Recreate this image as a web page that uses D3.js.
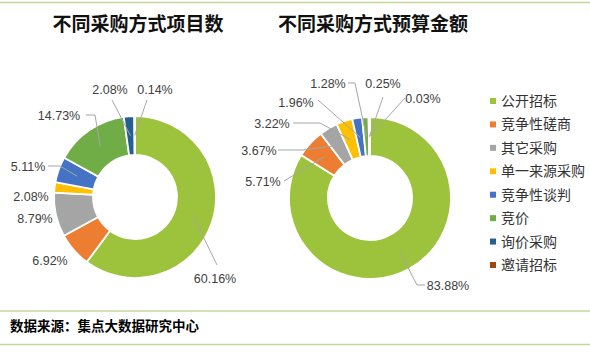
<!DOCTYPE html>
<html>
<head>
<meta charset="utf-8">
<script src="https://cdn.jsdelivr.net/npm/d3@7/dist/d3.min.js"></script>
<style>
  body { margin: 0; background: #fff; }
  svg text { font-family: "Liberation Sans", Arial, sans-serif; }
  .cjk { font-family: "Noto Sans CJK SC", sans-serif; }
</style>
</head>
<body>
<svg id="chart" width="590" height="353"></svg>
<script>
// data
const categories = ["公开招标", "竞争性磋商", "其它采购", "单一来源采购", "竞争性谈判", "竞价", "询价采购", "邀请招标"]
const colors = ["#9dc23c", "#ed7d31", "#a5a5a5", "#ffc000", "#4472c4", "#70ad47", "#255e91", "#9e480e"]
const projectShare = [60.16, 6.92, 8.79, 2.08, 5.11, 14.73, 2.08, 0.14]
const budgetShare = [83.88, 5.71, 3.67, 3.22, 1.96, 1.28, 0.25, 0.03]
const titles = ["不同采购方式项目数", "不同采购方式预算金额"]
const source = "数据来源：集点大数据研究中心"

// label placement (relative to donut centre): [x, baseline y, leader start x, leader start y, elbow x]
const projectLabels = [
  [80, 86, 82, 68, null], [-85, 68, null], [-100, 26, null], [-104, 4, null],
  [-107, -26, -87, -31, -75], [-76, -77, -49, -82, -40], [-25, -103, -23, -97, null], [20, -103, 12, -97, null]
]
const budgetLabels = [
  [78, 92, 55, 87, 47], [-107, -12, -86, -17, null], [-111, -43, -92, -48, -67], [-98, -70, -77, -75, -50],
  [-74, -91, -52, -98, null], [-42, -110, -22, -115, -15], [13, -110, 13, -101, null], [53, -95, 35, -100, null]
]

const svg = d3.select("#chart")
const W = 590, H = 353
const rOuter = 81, rInner = 42

// frame lines
const lineColor = "#c4d79b"
;[2.5, 311, 344.5].forEach(y => {
  svg.append("line").attr("x1", 0).attr("x2", W).attr("y1", y).attr("y2", y)
    .attr("stroke", lineColor).attr("stroke-width", 1.5)
})

const pie = d3.pie().sort(null).value(d => d)
const arc = d3.arc().innerRadius(rInner).outerRadius(rOuter)
const mid = d3.arc().innerRadius((rInner + rOuter) / 2).outerRadius((rInner + rOuter) / 2)

function donut(values, labels, cx, cy, title) {
  svg.append("text").attr("class", "cjk")
    .attr("x", cx + 3).attr("y", 31)
    .attr("text-anchor", "middle")
    .attr("font-size", 19).attr("font-weight", "bold").attr("fill", "#111")
    .text(title)

  const g = svg.append("g").attr("transform", `translate(${cx},${cy})`)
  const arcs = pie(values)
  g.selectAll("path").data(arcs).join("path")
    .attr("d", arc)
    .attr("fill", (d, i) => colors[i])
    .attr("stroke", "#fff").attr("stroke-width", 1.8)

  arcs.forEach((a, i) => {
    const lp = labels[i]
    if (lp[2] !== null) {
      const pts = [[lp[2], lp[3]]]
      if (lp[4] !== null) pts.push([lp[4], lp[3]])
      pts.push(mid.centroid(a))
      g.append("polyline")
        .attr("points", pts.map(p => p.join(",")).join(" "))
        .attr("fill", "none").attr("stroke", "#a6a6a6").attr("stroke-width", 1)
    }
    g.append("text")
      .attr("x", lp[0]).attr("y", lp[1])
      .attr("text-anchor", "middle")
      .attr("font-size", 12.5).attr("fill", "#404040")
      .text(values[i].toFixed(2) + "%")
  })
}

donut(projectShare, projectLabels, 135, 197, titles[0])
donut(budgetShare, budgetLabels, 370, 198, titles[1])

// legend
const legendY = d3.scalePoint().domain(categories).range([101, 265])
const legend = svg.append("g")
categories.forEach((c, i) => {
  legend.append("rect")
    .attr("x", 490).attr("y", legendY(c) - 3)
    .attr("width", 6).attr("height", 6)
    .attr("fill", colors[i])
  legend.append("text").attr("class", "cjk")
    .attr("x", 501).attr("y", legendY(c) + 5)
    .attr("font-size", 14).attr("fill", "#333")
    .text(c)
})

// footer
svg.append("text").attr("class", "cjk")
  .attr("x", 10).attr("y", 331)
  .attr("font-size", 13.5).attr("font-weight", "bold").attr("fill", "#000")
  .text(source)
</script>
</body>
</html>
